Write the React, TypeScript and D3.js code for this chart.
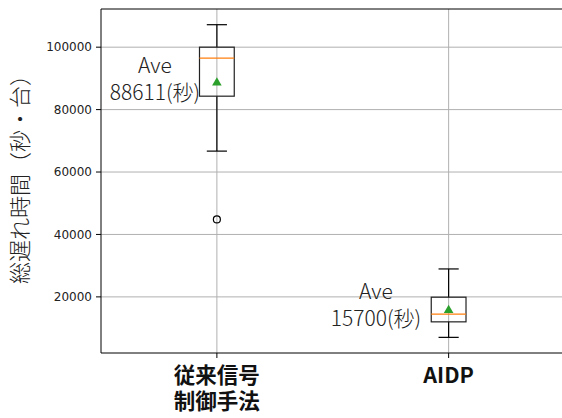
import React from "react";
import * as d3 from "d3";

const categories = [["従来信号", "制御手法"], ["AIDP"]];
const q1 = [84300, 12000];
const medians = [96500, 14500];
const q3 = [100000, 19900];
const whiskerLow = [66700, 7030];
const whiskerHigh = [107200, 28950];
const means = [88611, 15700];
const outliers = [[44800], []];
const meanLabels = [["Ave", "88611(秒)"], ["Ave", "15700(秒)"]];
const yTicks = [20000, 40000, 60000, 80000, 100000];
const yLabel = "総遅れ時間（秒・台）";

const W = 562;
const H = 418;
const left = 101;
const top = 9;
const bottom = 353;
const right = 564.5;

export default function App() {
  const x = d3.scaleLinear().domain([0.5, 2.5]).range([left, right]);
  const y = d3.scaleLinear().domain([2020, 112230]).range([bottom, top]);
  const boxW = x(1.075) - x(0.925);
  const capW = boxW * 0.58;
  const tri = d3.symbol().type(d3.symbolTriangle).size(40)();
  const jp = "'Noto Sans CJK JP', 'Noto Sans', sans-serif";
  const dv = "'DejaVu Sans', sans-serif";
  return (
    <svg width={W} height={H} style={{ position: "absolute", left: 0, top: 0, background: "#fff" }}>
      <rect x={0} y={0} width={W} height={H} fill="#fff" />
      {/* grid */}
      {yTicks.map((t) => (
        <line key={"gy" + t} x1={left} x2={W} y1={y(t)} y2={y(t)} stroke="#b0b0b0" strokeWidth={1} />
      ))}
      {categories.map((_, i) => (
        <line key={"gx" + i} x1={x(i + 1)} x2={x(i + 1)} y1={top} y2={bottom} stroke="#b0b0b0" strokeWidth={1} />
      ))}
      {/* boxes */}
      {categories.map((_, i) => {
        const cx = x(i + 1);
        return (
          <g key={"b" + i} stroke="#000" strokeWidth={1.2} fill="none">
            <line x1={cx} x2={cx} y1={y(q1[i])} y2={y(whiskerLow[i])} />
            <line x1={cx} x2={cx} y1={y(q3[i])} y2={y(whiskerHigh[i])} />
            <line x1={cx - capW / 2} x2={cx + capW / 2} y1={y(whiskerLow[i])} y2={y(whiskerLow[i])} />
            <line x1={cx - capW / 2} x2={cx + capW / 2} y1={y(whiskerHigh[i])} y2={y(whiskerHigh[i])} />
            <rect x={cx - boxW / 2} y={y(q3[i])} width={boxW} height={y(q1[i]) - y(q3[i])} stroke="#222" />
            <line x1={cx - boxW / 2} x2={cx + boxW / 2} y1={y(medians[i])} y2={y(medians[i])} stroke="#ff7f0e" />
            {outliers[i].map((o, j) => (
              <circle key={j} cx={cx} cy={y(o)} r={3.5} stroke="#000" fill="none" />
            ))}
            <path d={tri} transform={`translate(${cx},${y(means[i])})`} fill="#2ca02c" stroke="none" />
          </g>
        );
      })}
      {/* spines */}
      <line x1={left} x2={W} y1={top} y2={top} stroke="#000" strokeWidth={1} />
      <line x1={left} x2={W} y1={bottom} y2={bottom} stroke="#000" strokeWidth={1} />
      <line x1={left} x2={left} y1={top} y2={bottom} stroke="#000" strokeWidth={1} />
      {/* y ticks */}
      {yTicks.map((t) => (
        <g key={"yt" + t}>
          <line x1={left - 5} x2={left} y1={y(t)} y2={y(t)} stroke="#000" strokeWidth={1} />
          <text x={left - 9} y={y(t)} dy="0.35em" textAnchor="end" fontFamily={dv} fontSize={12} fill="#222">
            {t}
          </text>
        </g>
      ))}
      {/* x ticks */}
      {categories.map((lines, i) => (
        <g key={"xt" + i}>
          <line x1={x(i + 1)} x2={x(i + 1)} y1={bottom} y2={bottom + 5} stroke="#000" strokeWidth={1} />
          {lines.map((l, k) => (
            <text key={k} x={x(i + 1)} y={bottom + 30 + k * 26} textAnchor="middle" fontFamily={jp} fontWeight="bold" fontSize={21.5} fill="#111">
              {l}
            </text>
          ))}
        </g>
      ))}
      {/* mean annotations */}
      {meanLabels.map((lines, i) => {
        const ax = i === 0 ? 155 : 376;
        const ay = i === 0 ? 73 : 299;
        return (
          <g key={"ml" + i}>
            {lines.map((l, k) => (
              <text key={k} x={ax} y={ay + k * 27} textAnchor="middle" fontFamily={jp} fontWeight={300} fontSize={21} fill="#222">
                {l}
              </text>
            ))}
          </g>
        );
      })}
      {/* y label */}
      <text transform={`translate(28,174) rotate(-90)`} textAnchor="middle" fontFamily={jp} fontWeight={300} fontSize={22} fill="#222">
        {yLabel}
      </text>
    </svg>
  );
}
